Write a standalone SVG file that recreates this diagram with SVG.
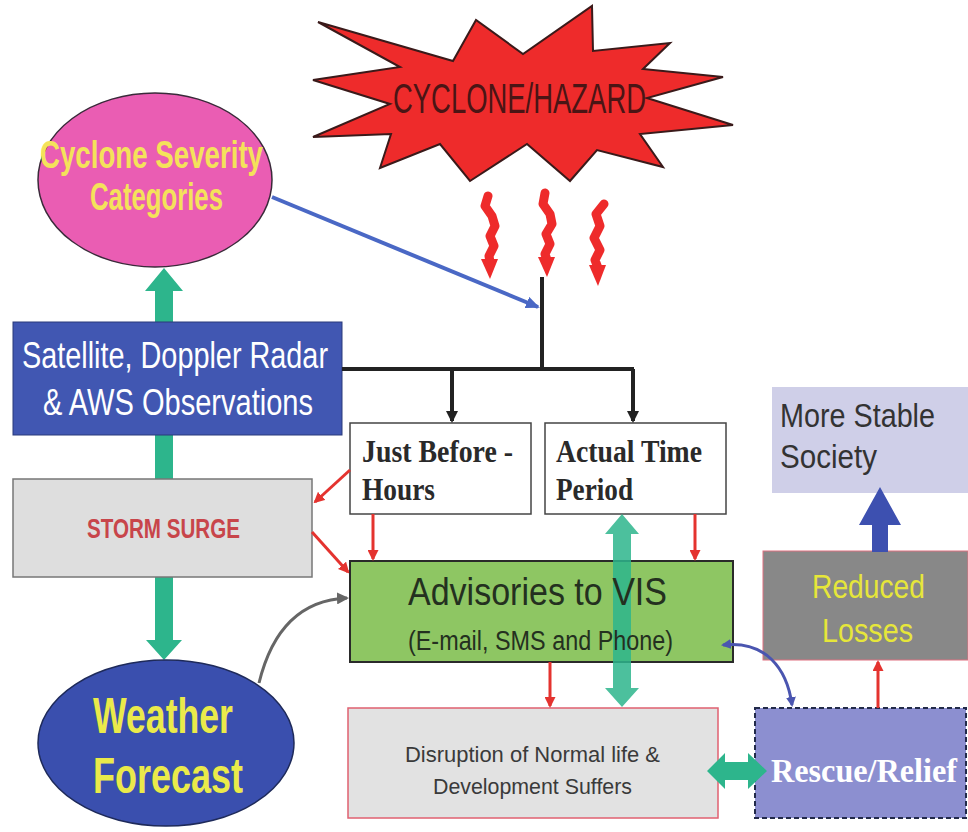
<svg xmlns="http://www.w3.org/2000/svg" width="968" height="832" viewBox="0 0 968 832">
<style>
.sans{font-family:"Liberation Sans Narrow","Liberation Sans",Arial,sans-serif;}
.serif{font-family:"Liberation Serif","Times New Roman",serif;font-weight:bold;}
.red{stroke:#e4332f;stroke-width:3;fill:none;}
.blk{stroke:#222;stroke-width:4;fill:none;}
.grn{fill:#2db58c;}
.sq{stroke:#ee2b2b;stroke-width:9;fill:none;stroke-linejoin:round;stroke-linecap:round;}
</style>
<defs>
<marker id="ar" markerWidth="11" markerHeight="11" refX="9" refY="5.5" orient="auto" markerUnits="userSpaceOnUse"><path d="M0,0 L11,5.5 L0,11 z" fill="#e4332f"/></marker>
<marker id="ab" markerWidth="12" markerHeight="12" refX="10" refY="6" orient="auto" markerUnits="userSpaceOnUse"><path d="M0,0 L12,6 L0,12 z" fill="#222"/></marker>
<marker id="au" markerWidth="14" markerHeight="12" refX="12" refY="6" orient="auto" markerUnits="userSpaceOnUse"><path d="M0,0 L14,6 L0,12 z" fill="#4a68c5"/></marker>
<marker id="au2" markerWidth="10" markerHeight="10" refX="8" refY="5" orient="auto" markerUnits="userSpaceOnUse"><path d="M0,0 L10,5 L0,10 z" fill="#4a55b0"/></marker>
<marker id="au2s" markerWidth="10" markerHeight="10" refX="2" refY="5" orient="auto" markerUnits="userSpaceOnUse"><path d="M10,0 L0,5 L10,10 z" fill="#4a55b0"/></marker>
<marker id="ag" markerWidth="12" markerHeight="12" refX="10" refY="6" orient="auto" markerUnits="userSpaceOnUse"><path d="M0,0 L12,6 L0,12 z" fill="#666"/></marker>
</defs>
<rect width="968" height="832" fill="#fff"/>

<g id="cyclone">
<polygon points="318,22 453,61 476,20 523,54 592,6 593,51 670,43 643,69 723,77 647,98 733,125 640,134 663,167 597,150 570,181 527,144 470,181 440,144 380,168 391,134 313,137 390,104 313,80 400,67" fill="#ee2b2b" stroke="#3a1a1a" stroke-width="2"/>
<text class="sans" x="393" y="113" font-size="42" fill="#4a1515" textLength="253" lengthAdjust="spacingAndGlyphs">CYCLONE/HAZARD</text>
</g>

<g id="squiggles" fill="#ee2b2b">
<path class="sq" d="M488,196 L485,206 L492,216 L495,226 L490,236 L494,246 L489,256 L490,262"/>
<polygon points="481,259 498,259 490,279"/>
<path class="sq" d="M545,193 L543,204 L550,214 L552,224 L546,234 L550,244 L545,254 L547,260"/>
<polygon points="538,257 555,257 547,277"/>
<path class="sq" d="M604,204 L596,214 L600,226 L594,238 L600,250 L595,260 L598,268"/>
<polygon points="589,265 606,265 598,286"/>
</g>

<g id="connectors-back">
<path class="grn" d="M164,268 L183,291 L173,291 L173,640 L182,640 L164,660 L146,640 L155,640 L155,291 L145,291 z"/>
</g>

<g id="severity">
<ellipse cx="155" cy="180" rx="117" ry="87" fill="#ea5db3" stroke="#3a2a3a" stroke-width="1.5"/>
<text class="sans" x="40" y="168" font-size="38" font-weight="bold" fill="#f4e25a" textLength="223" lengthAdjust="spacingAndGlyphs">Cyclone Severity</text>
<text class="sans" x="90" y="210" font-size="38" font-weight="bold" fill="#f4e25a" textLength="133" lengthAdjust="spacingAndGlyphs">Categories</text>
</g>

<g id="satellite">
<rect x="13" y="322" width="329" height="113" fill="#4157b2" stroke="#2a3a7a" stroke-width="1"/>
<text class="sans" x="22" y="368" font-size="36" fill="#fff" textLength="306" lengthAdjust="spacingAndGlyphs">Satellite, Doppler Radar</text>
<text class="sans" x="43" y="415" font-size="36" fill="#fff" textLength="270" lengthAdjust="spacingAndGlyphs">&amp; AWS Observations</text>
</g>

<g id="stormsurge">
<rect x="13" y="479" width="299" height="98" fill="#dedede" stroke="#777" stroke-width="1.5"/>
<text class="sans" x="87" y="538" font-size="27" fill="#c8454a" font-weight="bold" textLength="153" lengthAdjust="spacingAndGlyphs">STORM SURGE</text>
</g>

<g id="weather">
<ellipse cx="166" cy="743" rx="128" ry="83" fill="#3a4fae" stroke="#1e2a5a" stroke-width="1.5"/>
<text class="sans" x="93" y="733" font-size="50" font-weight="bold" fill="#eaea4a" textLength="140" lengthAdjust="spacingAndGlyphs">Weather</text>
<text class="sans" x="93" y="793" font-size="50" font-weight="bold" fill="#eaea4a" textLength="150" lengthAdjust="spacingAndGlyphs">Forecast</text>
</g>

<g id="justbefore">
<rect x="350" y="423" width="181" height="91" fill="#fff" stroke="#444" stroke-width="1.5"/>
<text class="serif" x="362" y="462" font-size="32" fill="#2a2a2a" textLength="151" lengthAdjust="spacingAndGlyphs">Just Before -</text>
<text class="serif" x="362" y="500" font-size="32" fill="#2a2a2a" textLength="73" lengthAdjust="spacingAndGlyphs">Hours</text>
</g>

<g id="actualtime">
<rect x="545" y="423" width="181" height="91" fill="#fff" stroke="#444" stroke-width="1.5"/>
<text class="serif" x="556" y="462" font-size="32" fill="#2a2a2a" textLength="146" lengthAdjust="spacingAndGlyphs">Actual Time</text>
<text class="serif" x="556" y="500" font-size="32" fill="#2a2a2a" textLength="77" lengthAdjust="spacingAndGlyphs">Period</text>
</g>

<g id="advisories">
<rect x="350" y="561" width="383" height="101" fill="#8ec663" stroke="#2a2a2a" stroke-width="2"/>
</g>

<g id="disruption">
<rect x="348" y="708" width="370" height="110" fill="#e2e2e2" stroke="#e06070" stroke-width="1.5"/>
<text class="sans" x="405" y="762" font-size="22" fill="#3a3a3a" textLength="255" lengthAdjust="spacingAndGlyphs">Disruption of Normal life &amp;</text>
<text class="sans" x="433" y="794" font-size="22" fill="#3a3a3a" textLength="199" lengthAdjust="spacingAndGlyphs">Development Suffers</text>
</g>

<g id="rescue">
<rect x="755" y="708" width="211" height="110" fill="#8c8fd0" stroke="#222a4a" stroke-width="2" stroke-dasharray="5,3"/>
<text class="serif" x="771" y="782" font-size="33" fill="#fff" textLength="186" lengthAdjust="spacingAndGlyphs">Rescue/Relief</text>
</g>

<g id="reduced">
<rect x="763" y="551" width="205" height="109" fill="#888" stroke="#e07080" stroke-width="1"/>
<text class="sans" x="812" y="598" font-size="33" fill="#e6e63a" textLength="113" lengthAdjust="spacingAndGlyphs">Reduced</text>
<text class="sans" x="822" y="642" font-size="33" fill="#e6e63a" textLength="91" lengthAdjust="spacingAndGlyphs">Losses</text>
</g>

<g id="stable">
<rect x="772" y="387" width="196" height="106" fill="#cfcfe8"/>
<text class="sans" x="780" y="427" font-size="34" fill="#333" textLength="155" lengthAdjust="spacingAndGlyphs">More Stable</text>
<text class="sans" x="780" y="468" font-size="34" fill="#333" textLength="97" lengthAdjust="spacingAndGlyphs">Society</text>
</g>

<g id="connectors">
<line x1="272" y1="197" x2="538" y2="307" stroke="#4a68c5" stroke-width="4" marker-end="url(#au)"/>
<line class="blk" x1="542" y1="277" x2="542" y2="369"/>
<line class="blk" x1="342" y1="369" x2="634" y2="369"/>
<line class="blk" x1="452" y1="369" x2="452" y2="421" marker-end="url(#ab)"/>
<line class="blk" x1="633" y1="369" x2="633" y2="421" marker-end="url(#ab)"/>
<line class="red" x1="350" y1="470" x2="315" y2="502" marker-end="url(#ar)"/>
<line class="red" x1="312" y1="532" x2="348" y2="572" marker-end="url(#ar)"/>
<line class="red" x1="373" y1="514" x2="373" y2="559" marker-end="url(#ar)"/>
<line class="red" x1="695" y1="514" x2="695" y2="559" marker-end="url(#ar)"/>
<line class="red" x1="550" y1="662" x2="550" y2="706" marker-end="url(#ar)"/>
<line class="red" x1="878" y1="708" x2="878" y2="662" marker-end="url(#ar)"/>
<path d="M259,683 C272,630 300,600 347,598" stroke="#666" stroke-width="3" fill="none" marker-end="url(#ag)"/>
<path d="M723,645 C765,640 787,668 792,705" stroke="#4a55b0" stroke-width="3" fill="none" marker-start="url(#au2s)" marker-end="url(#au2)"/>
<path d="M622,514 L639,534 L631,534 L631,688 L639,688 L622,707 L605,688 L613,688 L613,534 L605,534 z" fill="#2db58c" opacity="0.85"/>
<path class="grn" d="M707,771 L725,753 L725,762 L748,762 L748,753 L767,771 L748,789 L748,780 L725,780 L725,789 z"/>
<path d="M880,487 L901,525 L888,525 L888,552 L872,552 L872,525 L859,525 z" fill="#3d50b0"/>
</g>

<g id="advisories-label">
<text class="sans" x="408" y="605" font-size="39" fill="#24301f" textLength="259" lengthAdjust="spacingAndGlyphs">Advisories to VIS</text>
<text class="sans" x="408" y="650" font-size="27" fill="#24301f" textLength="265" lengthAdjust="spacingAndGlyphs">(E-mail, SMS and Phone)</text>
</g>
</svg>
